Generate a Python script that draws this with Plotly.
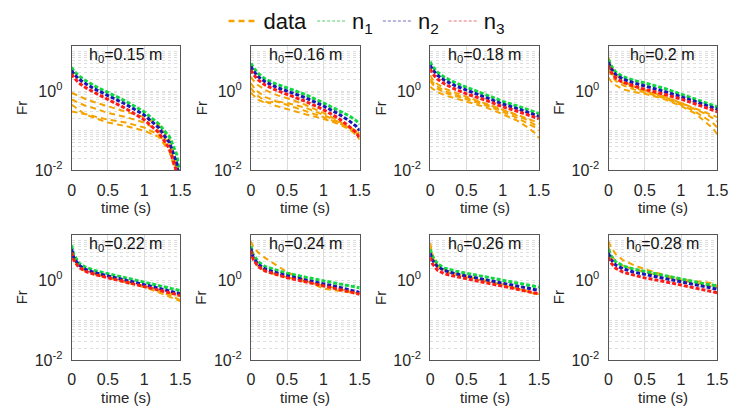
import plotly.graph_objects as go
from plotly.subplots import make_subplots

# ---------------- data ----------------
H0 = ["0.15", "0.16", "0.18", "0.2", "0.22", "0.24", "0.26", "0.28"]
T = [0, 0.03, 0.1, 0.2, 0.35, 0.5, 0.75, 1.0, 1.2, 1.35, 1.45, 1.5]

N1 = [
    [4.0, 3.2, 2.4, 1.8, 1.25, 0.92, 0.55, 0.30, 0.15, 0.07, 0.025, 0.006],
    [5.0, 4.0, 2.8, 2.0, 1.5, 1.2, 0.82, 0.5, 0.33, 0.24, 0.18, 0.145],
    [5.5, 4.2, 3.0, 2.2, 1.6, 1.25, 0.85, 0.55, 0.42, 0.34, 0.29, 0.27],
    [6.3, 4.5, 3.0, 2.3, 1.85, 1.6, 1.2, 0.83, 0.62, 0.5, 0.43, 0.4],
    [7.5, 4.5, 2.7, 2.1, 1.7, 1.45, 1.15, 0.9, 0.75, 0.65, 0.58, 0.55],
    [7.2, 4.5, 2.9, 2.2, 1.8, 1.5, 1.2, 0.96, 0.82, 0.73, 0.68, 0.65],
    [6.0, 4.0, 2.6, 2.0, 1.7, 1.5, 1.2, 1.0, 0.85, 0.76, 0.7, 0.67],
    [6.0, 4.2, 2.9, 2.3, 1.9, 1.67, 1.3, 1.05, 0.9, 0.8, 0.75, 0.73],
]
N2 = [
    [3.3, 2.7, 2.0, 1.5, 1.05, 0.78, 0.46, 0.25, 0.12, 0.05, 0.015, 0.004],
    [4.2, 3.3, 2.3, 1.7, 1.25, 1.0, 0.68, 0.42, 0.27, 0.18, 0.13, 0.1],
    [4.5, 3.5, 2.5, 1.85, 1.35, 1.05, 0.72, 0.47, 0.36, 0.29, 0.25, 0.23],
    [5.3, 3.8, 2.6, 2.0, 1.6, 1.35, 1.0, 0.72, 0.54, 0.43, 0.37, 0.35],
    [6.0, 3.7, 2.4, 1.85, 1.5, 1.3, 1.0, 0.78, 0.63, 0.54, 0.48, 0.46],
    [6.2, 3.8, 2.5, 1.9, 1.55, 1.3, 1.02, 0.83, 0.68, 0.58, 0.53, 0.5],
    [4.8, 3.2, 2.2, 1.75, 1.45, 1.28, 1.03, 0.85, 0.72, 0.63, 0.58, 0.56],
    [4.8, 3.4, 2.4, 1.95, 1.6, 1.4, 1.12, 0.9, 0.77, 0.68, 0.62, 0.6],
]
N3 = [
    [2.7, 2.2, 1.6, 1.2, 0.85, 0.62, 0.36, 0.19, 0.09, 0.035, 0.009, 0.003],
    [3.4, 2.7, 1.9, 1.4, 1.05, 0.82, 0.55, 0.34, 0.21, 0.13, 0.09, 0.065],
    [3.6, 2.8, 2.0, 1.5, 1.1, 0.85, 0.6, 0.4, 0.31, 0.25, 0.22, 0.2],
    [4.4, 3.1, 2.1, 1.65, 1.35, 1.1, 0.85, 0.63, 0.47, 0.37, 0.32, 0.3],
    [5.0, 3.2, 2.1, 1.65, 1.35, 1.15, 0.9, 0.7, 0.57, 0.49, 0.44, 0.42],
    [5.5, 3.4, 2.2, 1.7, 1.4, 1.16, 0.92, 0.73, 0.6, 0.51, 0.47, 0.45],
    [3.8, 2.6, 1.8, 1.45, 1.25, 1.1, 0.88, 0.73, 0.6, 0.52, 0.48, 0.46],
    [3.8, 2.8, 2.0, 1.6, 1.35, 1.15, 0.95, 0.76, 0.64, 0.56, 0.51, 0.49],
]

DATA_015 = [
    [0.9, 0.85, 0.75, 0.62, 0.5, 0.42, 0.3, 0.22, 0.14, 0.06, 0.012, 0.003],
    [0.6, 0.58, 0.5, 0.42, 0.35, 0.28, 0.22, 0.16, 0.10, 0.045, 0.01, 0.003],
    [0.3, 0.3, 0.28, 0.26, 0.22, 0.19, 0.16, 0.12, 0.08, 0.035, 0.008, 0.003],
    [0.45, 0.42, 0.33, 0.25, 0.2, 0.16, 0.13, 0.1, 0.07, 0.03, 0.007, 0.003],
]
DATA_016 = [
    [2.3, 1.9, 1.4, 1.05, 0.8, 0.66, 0.45, 0.28, 0.18, 0.12, 0.09, 0.075],
    [0.9, 0.8, 0.6, 0.5, 0.55, 0.5, 0.38, 0.25, 0.17, 0.12, 0.1, 0.09],
    [1.6, 1.3, 0.95, 0.7, 0.55, 0.45, 0.32, 0.22, 0.16, 0.12, 0.1, 0.085],
    [1.2, 1.0, 0.75, 0.55, 0.42, 0.35, 0.26, 0.2, 0.15, 0.11, 0.08, 0.06],
]
DATA_018 = [
    [2.5, 2.0, 1.5, 1.15, 0.9, 0.72, 0.5, 0.35, 0.26, 0.2, 0.17, 0.15],
    [1.8, 1.5, 1.15, 0.9, 0.75, 0.62, 0.45, 0.3, 0.21, 0.15, 0.12, 0.1],
    [1.3, 1.15, 0.95, 0.78, 0.65, 0.55, 0.4, 0.26, 0.18, 0.12, 0.085, 0.065],
    [2.0, 1.7, 1.3, 1.0, 0.8, 0.66, 0.48, 0.33, 0.24, 0.18, 0.14, 0.12],
]
DATA_020 = [
    [7.0, 4.8, 2.6, 1.8, 1.3, 1.05, 0.75, 0.5, 0.35, 0.26, 0.2, 0.17],
    [3.5, 2.6, 1.8, 1.4, 1.1, 0.92, 0.68, 0.45, 0.3, 0.2, 0.15, 0.12],
    [2.2, 1.8, 1.4, 1.1, 0.95, 0.85, 0.65, 0.42, 0.27, 0.16, 0.11, 0.08],
    [4.5, 3.2, 2.1, 1.6, 1.2, 1.0, 0.72, 0.5, 0.36, 0.28, 0.24, 0.22],
]
DATA_022 = [
    [6.0, 3.8, 2.3, 1.8, 1.45, 1.25, 0.95, 0.72, 0.55, 0.42, 0.35, 0.32],
    [5.0, 3.3, 2.1, 1.65, 1.35, 1.15, 0.9, 0.68, 0.5, 0.38, 0.33, 0.3],
    [5.5, 3.5, 2.2, 1.75, 1.4, 1.2, 0.93, 0.7, 0.56, 0.47, 0.42, 0.4],
]
DATA_024 = [
    [9.5, 7.0, 5.0, 3.6, 2.4, 1.6, 1.0, 0.62, 0.55, 0.5, 0.47, 0.46],
    [5.0, 3.3, 2.2, 1.7, 1.4, 1.18, 0.93, 0.75, 0.62, 0.53, 0.48, 0.46],
]
DATA_026 = [
    [8.6, 4.5, 2.4, 1.8, 1.45, 1.25, 1.0, 0.8, 0.64, 0.52, 0.45, 0.42],
    [6.5, 3.8, 2.2, 1.7, 1.4, 1.2, 0.95, 0.76, 0.62, 0.53, 0.48, 0.45],
]
DATA_028 = [
    [9.5, 7.0, 4.5, 3.2, 2.4, 1.9, 1.4, 1.05, 0.95, 0.9, 0.85, 0.7],
    [7.0, 4.5, 3.0, 2.3, 1.9, 1.6, 1.25, 1.0, 0.85, 0.78, 0.72, 0.68],
]
DATA = [DATA_015, DATA_016, DATA_018, DATA_020, DATA_022, DATA_024, DATA_026, DATA_028]

XTICK_VALS = [0, 0.5, 1, 1.5]
XTICK_TEXT = ["0", "0.5", "1", "1.5"]
YLABEL_VALS = [0.01, 1]
YLABEL_TEXT = ["10<sup>-2</sup>", "10<sup>0</sup>"]

# ---------------- style ----------------
FONT = "Liberation Sans, Arial, sans-serif"
W, H = 741, 415
C_DATA = "#f5a300"
C_N1 = "#10d840"
C_N2 = "#1818b8"
C_N3 = "#ff1a1a"
COL_X = [(69, 180), (252, 363), (435, 546), (617, 728)]
ROW_Y = [(38, 168), (236, 367)]

fig = make_subplots(rows=2, cols=4)

# grid positions for log minor grid
ygrid = []
for e in range(-2, 2):
    for m in range(1, 10):
        ygrid.append(m * 10 ** e)
ytext = []
for v in ygrid:
    if abs(v - YLABEL_VALS[0]) < 1e-12:
        ytext.append(YLABEL_TEXT[0])
    elif abs(v - YLABEL_VALS[1]) < 1e-12:
        ytext.append(YLABEL_TEXT[1])
    else:
        ytext.append("")

for i in range(8):
    r, c = i // 4 + 1, i % 4 + 1
    for d in DATA[i]:
        fig.add_trace(go.Scatter(x=T, y=d, mode="lines", showlegend=False,
                                 line=dict(color=C_DATA, width=2, dash="6px,4px")), row=r, col=c)
    for ys, col in ((N1[i], C_N1), (N2[i], C_N2), (N3[i], C_N3)):
        fig.add_trace(go.Scatter(x=T, y=ys, mode="lines", showlegend=False,
                                 line=dict(color=col, width=3, dash="4px,2px")), row=r, col=c)

    ax = "" if i == 0 else str(i + 1)
    x0, x1 = COL_X[c - 1]
    y0, y1 = ROW_Y[r - 1]
    fig.layout["xaxis" + ax].update(
        domain=[x0 / W, x1 / W], range=[0, 1.5], tickvals=XTICK_VALS, ticktext=XTICK_TEXT,
        showgrid=True, gridcolor="#dcdcdc", gridwidth=1, zeroline=False,
        showline=True, mirror=True, linecolor="#555555", linewidth=1, ticks="",
        tickfont=dict(size=16, color="#262626", family=FONT), ticklabelstandoff=5)
    fig.layout["yaxis" + ax].update(
        domain=[1 - y1 / H, 1 - y0 / H], type="log", range=[-2, 1.13],
        tickvals=ygrid, ticktext=ytext, showgrid=True, gridcolor="#dedede", gridwidth=1,
        griddash="dot", zeroline=False, showline=True, mirror=True, linecolor="#555555",
        linewidth=1, ticks="", tickfont=dict(size=16, color="#262626", family=FONT),
        ticklabelstandoff=5)
    xc = (x0 + x1) / 2 / W
    fig.add_annotation(text="h<sub>0</sub>=" + H0[i] + " m", x=xc, y=1 - (y0 + 10) / H,
                       xref="paper", yref="paper", showarrow=False, xanchor="center",
                       yanchor="middle", font=dict(size=16, color="#111111", family=FONT))
    fig.add_annotation(text="time (s)", x=xc, y=1 - (y1 + 39) / H, xref="paper", yref="paper",
                       showarrow=False, xanchor="center", yanchor="middle",
                       font=dict(size=15, color="#262626", family=FONT))
    fig.add_annotation(text="Fr", x=(x0 - 51) / W, y=1 - (y0 + y1) / 2 / H, xref="paper",
                       yref="paper", showarrow=False, xanchor="center", yanchor="middle",
                       textangle=-90, font=dict(size=15, color="#262626", family=FONT))

# legend-only entries
for name, col, wd, dsh in (("data", C_DATA, 2.5, "6px,4px"),
                           ("n<sub>1</sub>", "#8fe0a0", 1.5, "3px,2px"),
                           ("n<sub>2</sub>", "#a0a0d8", 1.5, "3px,2px"),
                           ("n<sub>3</sub>", "#f0a0a8", 1.5, "3px,2px")):
    fig.add_trace(go.Scatter(x=[None], y=[None], mode="lines", name=name,
                             line=dict(color=col, width=wd, dash=dsh)), row=1, col=1)

fig.update_layout(
    width=W, height=H, margin=dict(l=0, r=0, t=0, b=0),
    paper_bgcolor="white", plot_bgcolor="white",
    font=dict(family=FONT, color="#111111"),
    legend=dict(orientation="h", x=0.5, xanchor="center", y=1.025, yanchor="top",
                font=dict(size=22, family=FONT, color="#111111"), itemwidth=30,
                bgcolor="rgba(0,0,0,0)", tracegroupgap=0),
)

fig.write_html("out.html")
